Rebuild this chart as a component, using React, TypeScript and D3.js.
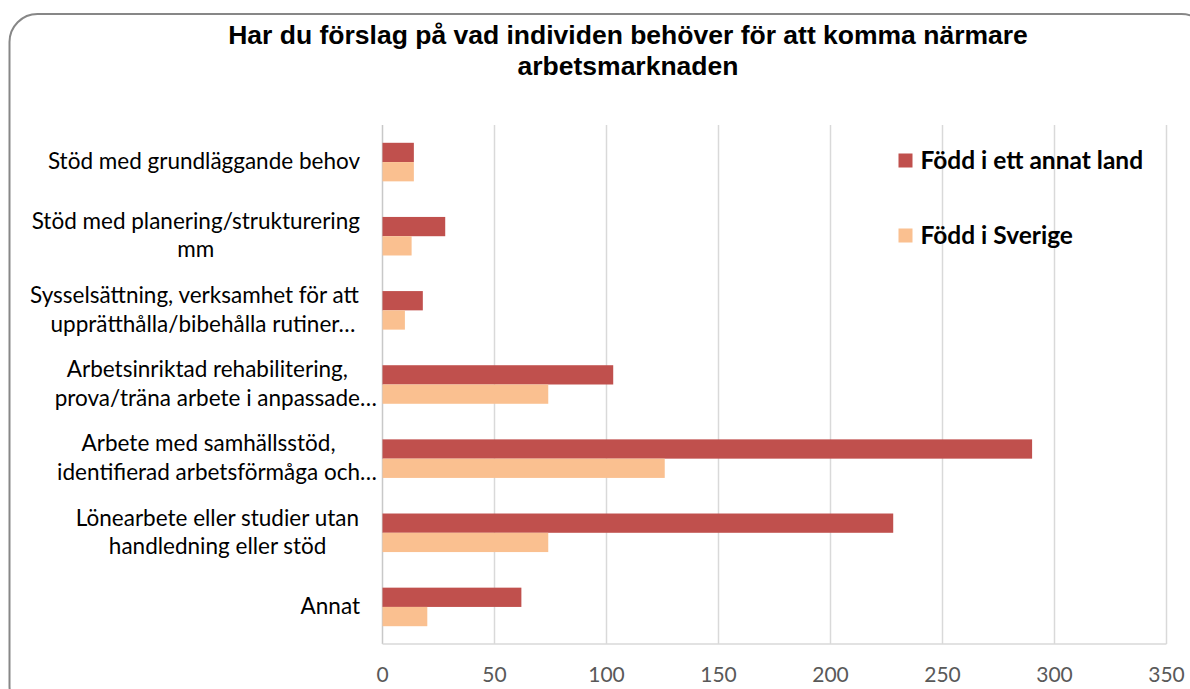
import React from "react";
import * as d3 from "d3";

const titleLines = [
  "Har du förslag på vad individen behöver för att komma närmare",
  "arbetsmarknaden",
];

const categoryLabels: string[][] = [
  ["Stöd med grundläggande behov"],
  ["Stöd med planering/strukturering", "mm"],
  ["Sysselsättning, verksamhet för att", "upprätthålla/bibehålla rutiner…"],
  ["Arbetsinriktad rehabilitering,", "prova/träna arbete i anpassade…"],
  ["Arbete med samhällsstöd,", "identifierad arbetsförmåga och…"],
  ["Lönearbete eller studier utan", "handledning eller stöd"],
  ["Annat"],
];

const seriesNames = ["Född i ett annat land", "Född i Sverige"];
const bornAbroad = [14, 28, 18, 103, 290, 228, 62];
const bornSweden = [14, 13, 10, 74, 126, 74, 20];
const xTicks = [0, 50, 100, 150, 200, 250, 300, 350];

const COLORS = ["#C0504D", "#FAC090"];

const W = 1190;
const H = 689;
const plot = { left: 382.5, right: 1166.5, top: 125, bottom: 644 };

const LABEL_FONT_SIZE = 22.5;
const LABEL_FONT = `${LABEL_FONT_SIZE}px Lato`;

let ctx: CanvasRenderingContext2D | null = null;
function measure(text: string, font: string): number {
  if (!ctx) {
    const c = document.createElement("canvas");
    ctx = c.getContext("2d");
  }
  if (!ctx) return text.length * 10;
  ctx.font = font;
  return ctx.measureText(text).width;
}

export default function App() {
  const x = d3.scaleLinear().domain([0, 350]).range([plot.left, plot.right]);
  const y = d3
    .scaleBand<number>()
    .domain(d3.range(categoryLabels.length))
    .range([plot.top, plot.bottom])
    .paddingInner(0.48)
    .paddingOuter(0.24);
  const ys = d3
    .scaleBand<number>()
    .domain([0, 1])
    .range([0, y.bandwidth()])
    .padding(0);
  const series = [bornAbroad, bornSweden];
  const labelRight = plot.left - 22.5;
  const lineGap = 28.5;

  return (
    <svg
      width={W}
      height={H}
      style={{ position: "absolute", left: 0, top: 0, background: "#fff" }}
    >
      <rect
        x={9.5}
        y={14}
        width={1200}
        height={700}
        rx={28}
        ry={28}
        fill="#fff"
        stroke="#878787"
        strokeWidth={2}
      />
      {titleLines.map((t, i) => (
        <text
          key={i}
          x={628}
          y={44 + i * 31}
          textAnchor="middle"
          fontFamily="'Liberation Sans', Arial, sans-serif"
          fontWeight="bold"
          fontSize={26.5}
          fill="#000"
        >
          {t}
        </text>
      ))}
      {/* gridlines */}
      {xTicks.map((t) => (
        <line
          key={t}
          x1={x(t)}
          x2={x(t)}
          y1={plot.top}
          y2={plot.bottom}
          stroke={t === 0 ? "#c8c8c8" : "#d9d9d9"}
          strokeWidth={1.5}
        />
      ))}
      <line
        x1={plot.left}
        x2={plot.right}
        y1={plot.bottom}
        y2={plot.bottom}
        stroke="#d9d9d9"
        strokeWidth={1.5}
      />
      {/* bars */}
      {categoryLabels.map((_, i) =>
        series.map((s, k) => (
          <rect
            key={`${i}-${k}`}
            x={x(0)}
            y={(y(i) as number) + (ys(k) as number)}
            width={x(s[i]) - x(0)}
            height={ys.bandwidth()}
            fill={COLORS[k]}
          />
        ))
      )}
      {/* category labels */}
      {categoryLabels.map((lines, i) => {
        const cy = (y(i) as number) + y.bandwidth() / 2;
        const core = lines.map((l) => l.replace(/…$/, ""));
        const widths = core.map((l) => measure(l, LABEL_FONT));
        const maxW = Math.max(...widths);
        const center = labelRight - maxW / 2;
        const n = lines.length;
        return lines.map((l, j) => (
          <text
            key={`${i}-${j}`}
            x={center - widths[j] / 2}
            y={cy + 7 + (j - (n - 1) / 2) * lineGap}
            textAnchor="start"
            fontFamily="Lato, sans-serif"
            fontSize={LABEL_FONT_SIZE}
            fill="#000"
          >
            {l}
          </text>
        ));
      })}
      {/* x tick labels */}
      {xTicks.map((t) => (
        <text
          key={t}
          x={x(t)}
          y={682}
          textAnchor="middle"
          fontFamily="Lato, sans-serif"
          fontSize={21}
          fill="#595959"
        >
          {t}
        </text>
      ))}
      {/* legend */}
      {seriesNames.map((name, k) => (
        <g key={name}>
          <rect
            x={898.5}
            y={153.5 + k * 75}
            width={14}
            height={14}
            fill={COLORS[k]}
          />
          <text
            x={920.5}
            y={168.5 + k * 75}
            fontFamily="Lato, sans-serif"
            fontWeight="bold"
            fontSize={24.5}
            fill="#000"
          >
            {name}
          </text>
        </g>
      ))}
    </svg>
  );
}
